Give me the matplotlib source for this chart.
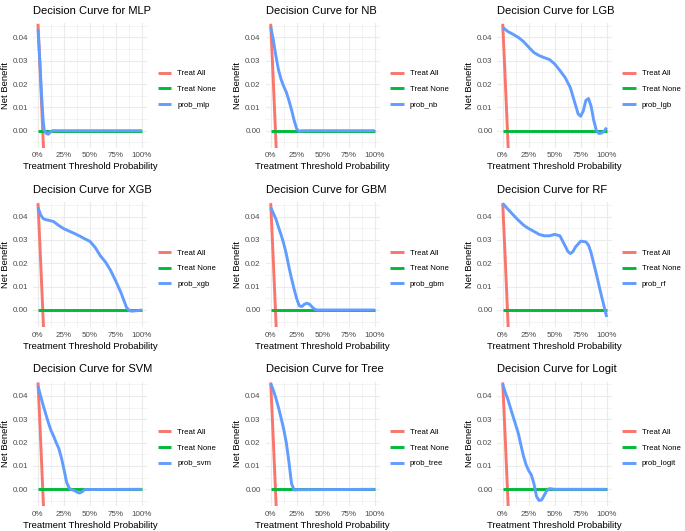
import numpy as np
import matplotlib
matplotlib.use("Agg")
import matplotlib.pyplot as plt

plt.rcParams['font.family'] = ['Liberation Sans', 'DejaVu Sans']

# ---- data ----
models = ["MLP", "NB", "LGB", "XGB", "GBM", "RF", "SVM", "Tree", "Logit"]
series = ["prob_mlp", "prob_nb", "prob_lgb", "prob_xgb", "prob_gbm",
          "prob_rf", "prob_svm", "prob_tree", "prob_logit"]

treat_all_x = [0, 0.02, 0.04, 0.06]
treat_all_y = [0.0458, 0.0263, 0.0059, -0.0151]
treat_none_x = [0, 1]
treat_none_y = [0, 0]

mlp_x = [0, 0.01, 0.02, 0.03, 0.04, 0.05, 0.06, 0.08, 0.10, 0.12, 0.14, 1.0]
mlp_y = [0.0435, 0.036, 0.028, 0.019, 0.011, 0.004, 0.0, -0.0012, -0.0015, -0.0005, 0, 0]

nb_x = [0, 0.025, 0.05, 0.075, 0.10, 0.125, 0.15, 0.175, 0.20, 0.225, 0.25, 0.275, 0.30, 1.0]
nb_y = [0.0445, 0.039, 0.032, 0.026, 0.022, 0.019, 0.0165, 0.013, 0.009, 0.0045, 0.0008, -0.0003, 0, 0]

lgb_x = [0, .05, .10, .15, .20, .25, .30, .35, .40, .45, .50, .55, .60, .65, .70,
         .725, .75, .775, .80, .825, .85, .875, .90, .925, .95, .975, 1.0]
lgb_y = [.0443, .0425, .0413, .0400, .0382, .0358, .0335, .0322, .0313, .0305, .0286,
         .0258, .0228, .0185, .0110, .0072, .0062, .0085, .0130, .0138, .0105, .0045,
         .0002, -.0012, -.0010, -.0002, .0013]

xgb_x = [0, .025, .05, .075, .10, .15, .20, .25, .30, .35, .40, .45, .50, .55, .60,
         .65, .70, .75, .80, .85, .875, .90, .95, 1.0]
xgb_y = [.044, .0408, .0392, .0387, .0385, .0379, .0362, .0348, .0338, .0328, .0317,
         .0305, .0294, .0268, .0232, .0205, .0168, .0122, .0072, .0012, -.0002,
         -.0005, -.0003, 0]

gbm_x = [0, .025, .05, .075, .10, .125, .15, .175, .20, .225, .25, .275, .30, .325,
         .35, .375, .40, .425, .45, 1.0]
gbm_y = [.044, .0415, .0390, .0355, .0322, .0285, .0240, .0185, .0135, .0090, .0048,
         .0018, .0015, .0025, .0029, .0024, .0012, .0003, 0, 0]

rf_x = [0, .05, .10, .15, .20, .25, .30, .35, .40, .45, .50, .55, .60, .625, .65,
        .675, .70, .75, .80, .825, .85, .90, .95, 1.0]
rf_y = [.0457, .0432, .0408, .0385, .0364, .0349, .0337, .0324, .0318, .0318, .0324,
        .0318, .0275, .0252, .0242, .0250, .0270, .0295, .0292, .0278, .0245, .0155,
        .0060, -.0030]

svm_x = [0, .025, .05, .075, .10, .125, .15, .175, .20, .225, .25, .275, .30, .325,
         .35, .375, .40, .425, .45, 1.0]
svm_y = [.0443, .040, .0360, .0322, .0285, .0252, .0228, .0200, .0175, .0135, .0085,
         .0030, .0005, -.0002, -.0005, -.0012, -.0016, -.0010, -.0001, 0]

tree_x = [0, .025, .05, .075, .10, .125, .15, .175, .20, .225, .25, 1.0]
tree_y = [.0454, .0425, .0390, .0350, .0305, .0258, .0200, .0118, .0025, -.0003, -.0002, 0]

logit_x = [0, .025, .05, .075, .10, .125, .15, .175, .20, .225, .25, .275, .30, .325,
           .35, .375, .40, .425, .45, .50, 1.0]
logit_y = [.0450, .0415, .0385, .0348, .0312, .0276, .0240, .0190, .0142, .0105, .0080,
           .0062, .0025, -.0030, -.0048, -.0045, -.0025, -.0005, .0003, 0, 0]

curves = [(mlp_x, mlp_y), (nb_x, nb_y), (lgb_x, lgb_y), (xgb_x, xgb_y), (gbm_x, gbm_y),
          (rf_x, rf_y), (svm_x, svm_y), (tree_x, tree_y), (logit_x, logit_y)]

# ---- layout ----
W, H = 685, 531
fig = plt.figure(figsize=(W / 100, H / 100), dpi=100)

col_left = [32.8, 265.5, 497.5]
col_w = 114.4
row_top = [22.9, 202.2, 381.5]
row_h = 124.6

RED, GREEN, BLUE = "#F8766D", "#00BA38", "#619CFF"
GRID = "#EBEBEB"

for i, name in enumerate(models):
	r, c = divmod(i, 3)
	ax = fig.add_axes([col_left[c] / W, 1 - (row_top[r] + row_h) / H, col_w / W, row_h / H])
	ax.plot(treat_all_x, treat_all_y, color=RED, lw=2.1, label="Treat All", solid_capstyle="butt")
	ax.plot(treat_none_x, treat_none_y, color=GREEN, lw=2.1, label="Treat None", solid_capstyle="butt")
	cx, cy = curves[i]
	ax.plot(cx, cy, color=BLUE, lw=2.1, label=series[i], solid_capstyle="butt")

	ax.set_xlim(-0.05, 1.05)
	ax.set_ylim(-0.0072, 0.0462)
	ax.set_xticks([0, 0.25, 0.5, 0.75, 1.0])
	ax.set_xticklabels(["0%", "25%", "50%", "75%", "100%"])
	ax.set_xticks([0.125, 0.375, 0.625, 0.875], minor=True)
	ax.set_yticks([0, 0.01, 0.02, 0.03, 0.04])
	ax.set_yticklabels(["0.00", "0.01", "0.02", "0.03", "0.04"])
	ax.set_yticks([-0.005, 0.005, 0.015, 0.025, 0.035, 0.045], minor=True)
	ax.grid(True, which="major", color=GRID, lw=0.8)
	ax.grid(True, which="minor", color=GRID, lw=0.4)
	ax.set_axisbelow(True)
	for s in ax.spines.values():
		s.set_visible(False)
	ax.tick_params(which="both", length=0, labelsize=5.8, labelcolor="#4D4D4D", pad=3.5)

	ax.set_title("Decision Curve for " + name, loc="left", fontsize=8.0, pad=6.5)
	ax.set_xlabel("Treatment Threshold Probability", fontsize=6.8, labelpad=2.2)
	ax.set_ylabel("Net Benefit", fontsize=6.8, labelpad=2)

	leg = ax.legend(loc="center left", bbox_to_anchor=(1 + 10.5 / col_w, 0.467),
	                frameon=False, fontsize=5.6, handlelength=1.7,
	                handletextpad=0.8, labelspacing=1.05, borderpad=0, borderaxespad=0)
	for h in leg.get_lines():
		h.set_linewidth(2.1)

fig.savefig("out.png", dpi=100)
